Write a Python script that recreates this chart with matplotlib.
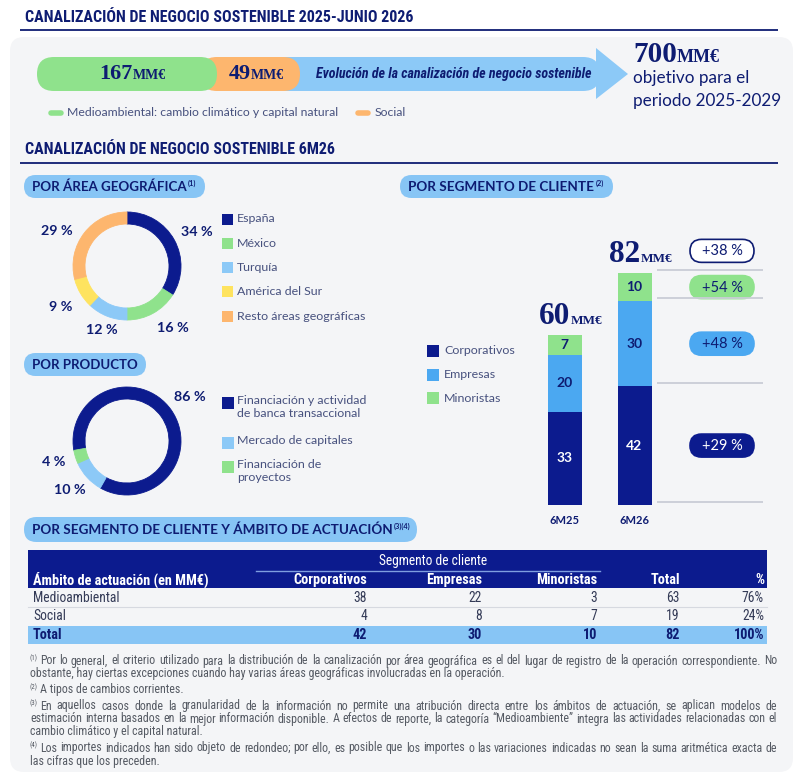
import numpy as np
import matplotlib
matplotlib.use('Agg')
import matplotlib.pyplot as plt
from matplotlib.patches import FancyBboxPatch, Polygon, Rectangle
from matplotlib import font_manager

# ---- datos ----
canal_values = [167, 49]
canal_names = ['Medioambiental: cambio climático y capital natural', 'Social']
target_value = 700
target_text = ['objetivo para el', 'periodo 2025-2029']

geo_names = ['España', 'México', 'Turquía', 'América del Sur', 'Resto áreas geográficas']
geo_pct = [34, 16, 12, 9, 29]

prod_names = ['Financiación y actividad\nde banca transaccional', 'Mercado de capitales',
              'Financiación de\nproyectos']
prod_pct = [86, 10, 4]

periods = ['6M25', '6M26']
seg_names = ['Corporativos', 'Empresas', 'Minoristas']
seg_6m25 = [33, 20, 7]
seg_6m26 = [42, 30, 10]
seg_growth = ['+29 %', '+48 %', '+54 %']
total_growth = '+38 %'

scope_names = ['Medioambiental', 'Social']
scope_corp = [38, 4]
scope_emp = [22, 8]
scope_min = [3, 7]
scope_share = ['76%', '24%']

notes = [
    ('(1)', 'Por lo general, el criterio utilizado para la distribución de la canalización por área geográfica es el del lugar de registro de la operación correspondiente. No', True),
    (None, 'obstante, hay ciertas excepciones cuando hay varias áreas geográficas involucradas en la operación.', False),
    ('(2)', 'A tipos de cambios corrientes.', False),
    ('(3)', 'En aquellos casos donde la granularidad de la información no permite una atribución directa entre los ámbitos de actuación, se aplican modelos de', True),
    (None, 'estimación interna basados en la mejor información disponible. A efectos de reporte, la categoría “Medioambiente” integra las actividades relacionadas con el', True),
    (None, 'cambio climático y el capital natural.', False),
    ('(4)', 'Los importes indicados han sido objeto de redondeo; por ello, es posible que los importes o las variaciones indicadas no sean la suma aritmética exacta de', True),
    (None, 'las cifras que los preceden.', False),
]
note_y = [661, 674, 690, 706, 719, 732, 748, 761]

# ---- fuentes ----
fl = font_manager.fontManager.ttflist


def has_bold(n):
    return any(f.name == n and str(f.weight) in ('600', '700', 'bold', 'semibold') for f in fl)


prefs = ['Roboto Condensed', 'Barlow Semi Condensed', 'Archivo Narrow', 'Asap Condensed',
         'Encode Sans Condensed', 'Cabin Condensed', 'Barlow Condensed', 'Liberation Sans Narrow']
narrow_ok = [n for n in prefs if has_bold(n)] or [n for n in prefs if any(f.name == n for f in fl)]
NARROW = [narrow_ok[0] if narrow_ok else 'Roboto', 'DejaVu Sans']
SANS = ['Lato', 'DejaVu Sans']
SERIF = ['Liberation Serif', 'DejaVu Serif']

NAVY = '#0c1b8e'
TXT = '#0e1c72'
LEG = '#47517e'
GREEN = '#8fe28c'
ORANGE = '#fdb66e'
SKY = '#8cc9f7'
BLUE = '#4ba8f1'
YELLOW = '#fee35f'
PANEL = '#f4f5f7'
PILL = '#87c5f5'
GRID = '#c9cdd6'
NOTE = '#555a63'
ROW = '#333a56'
LEG_FS = 8.9

W, H = 804, 780
fig = plt.figure(figsize=(W / 100, H / 100), dpi=100)
ax = fig.add_axes([0, 0, 1, 1])
ax.set_xlim(0, W)
ax.set_ylim(H, 0)
ax.axis('off')
renderer = fig.canvas.get_renderer()


def text_w(s, **kw):
    t = ax.text(0, 0, s, **kw)
    w = t.get_window_extent(renderer).width
    t.remove()
    return w


def fit_size(s, width, size=9, **kw):
    # font size that gives the width
    return size * width / text_w(s, fontsize=size, **kw)


def rect_axes(x, y, w, h):
    return fig.add_axes([x / W, 1 - (y + h) / H, w / W, h / H])


def to_main(axx, x, y):
    return ax.transData.inverted().transform(axx.transData.transform((x, y)))


def amount(x, y, value, big, small, ha='center'):
    kb = dict(fontfamily=SERIF, fontweight='bold', color=TXT, va='baseline')
    w1 = text_w(value, fontsize=big, **kb)
    w2 = text_w('MM€', fontsize=small, **kb)
    x0 = x - (w1 + w2) / 2 if ha == 'center' else x
    ax.text(x0, y, value, fontsize=big, **kb)
    ax.text(x0 + w1, y, 'MM€', fontsize=small, **kb)


def header(y, text, width):
    kw = dict(fontweight='bold', fontfamily=NARROW)
    ax.text(25, y, text, fontsize=fit_size(text, width, **kw), color=TXT, va='center', **kw)
    ax.plot([20, 778], [y + 13, y + 13], color=TXT, lw=1.3, solid_capstyle='butt')


def pill(xc, yc, w, h, text, fc, ec, tc, size=10.5, lw=1.2):
    ax.add_patch(FancyBboxPatch((xc - w / 2, yc - h / 2), w, h,
                                boxstyle=f'round,pad=0,rounding_size={h / 2}', fc=fc, ec=ec, lw=lw))
    ax.text(xc, yc + 0.5, text, ha='center', va='center', fontsize=size, fontfamily=SANS, color=tc)


def pill_heading(x, y, w, h, text, width, sup=None):
    ax.add_patch(FancyBboxPatch((x, y), w, h, boxstyle=f'round,pad=0,rounding_size={h / 2}',
                                fc=PILL, ec='none'))
    kw = dict(fontweight='bold', fontfamily=SANS)
    fs = min(fit_size(text, width, **kw), 10)
    ax.text(x + 8, y + h / 2 + 0.5, text, va='center', fontsize=fs, color=TXT, **kw)
    if sup:
        tw = text_w(text, fontsize=fs, **kw)
        ax.text(x + 9.5 + tw, y + h / 2 - 3, sup, va='center', fontsize=5.3, fontweight='bold',
                fontfamily=SANS, color=TXT)


# panel de fondo
ax.add_patch(FancyBboxPatch((10, 37), 783, 735, boxstyle='round,pad=0,rounding_size=14',
                            fc=PANEL, ec='none'))

header(17, 'CANALIZACIÓN DE NEGOCIO SOSTENIBLE 2025-JUNIO 2026', 390)

# flecha de evolución
ax.add_patch(FancyBboxPatch((270, 57), 330, 34, boxstyle='round,pad=0,rounding_size=17', fc=SKY, ec='none'))
ax.add_patch(Polygon([(596, 48), (628, 74), (596, 99)], closed=True, fc=SKY, ec='none'))
ax.add_patch(FancyBboxPatch((200, 57), 100, 34, boxstyle='round,pad=0,rounding_size=17', fc=ORANGE, ec='none'))
ax.add_patch(FancyBboxPatch((37, 57), 180, 34, boxstyle='round,pad=0,rounding_size=17', fc=GREEN, ec='none'))
amount(132.5, 79, str(canal_values[0]), 16, 10)
amount(256, 79, str(canal_values[1]), 16, 10)
evo = 'Evolución de la canalización de negocio sostenible'
ek = dict(fontweight='bold', style='italic', fontfamily=NARROW)
ax.text(454, 74, evo, fontsize=fit_size(evo, 277, **ek), color=TXT, ha='center', va='center', **ek)

amount(633, 61.5, str(target_value), 21, 13, ha='left')
ax.text(633, 82.5, target_text[0], fontsize=12.3, fontfamily=SANS, color=TXT, va='baseline')
ax.text(633, 106, target_text[1], fontsize=12.3, fontfamily=SANS, color=TXT, va='baseline')

for (x0, x1, xt), name, col in zip([(51, 61, 67), (358, 368, 375)], canal_names, [GREEN, ORANGE]):
    ax.plot([x0, x1], [113, 113], color=col, lw=4, solid_capstyle='round')
    ax.text(xt, 113, name, fontsize=8.8, fontfamily=SANS, color=LEG, va='center')

header(150, 'CANALIZACIÓN DE NEGOCIO SOSTENIBLE 6M26', 312)


# ---- donuts ----
def donut(cx, cy, r, vals, colors, start, shifts, dists):
    a = rect_axes(cx - r, cy - r, 2 * r, 2 * r)
    wedges, _ = a.pie(vals, colors=colors, startangle=start, counterclock=False, radius=1,
                      wedgeprops=dict(width=12 / r, linewidth=0.6))
    for w in wedges:
        w.set_edgecolor(w.get_facecolor())
    a.set_xlim(-1, 1)
    a.set_ylim(-1, 1)
    for w, v, s, d in zip(wedges, vals, shifts, dists):
        ang = np.deg2rad((w.theta1 + w.theta2) / 2 + s)
        a.text(d * np.cos(ang), d * np.sin(ang), f'{v} %', ha='center', va='center', fontsize=10.3,
               fontweight='bold', fontfamily=SANS, color=TXT, clip_on=False)


pill_heading(24, 175, 181, 23, 'POR ÁREA GEOGRÁFICA', 155, '(1)')
donut(127, 266, 54, geo_pct, [NAVY, GREEN, SKY, YELLOW, ORANGE], 90,
      [-3, 8, 0, 1, 11], [1.44, 1.43, 1.27, 1.45, 1.45])
for i, name in enumerate(geo_names):
    y = 219 + i * 24.3
    ax.add_patch(Rectangle((222, y - 5.5), 11, 11, fc=[NAVY, GREEN, SKY, YELLOW, ORANGE][i], ec='none'))
    ax.text(237, y, name, fontsize=LEG_FS, fontfamily=SANS, color=LEG, va='center')

pill_heading(24, 353, 122, 23, 'POR PRODUCTO', 105)
donut(127, 441, 54, prod_pct, [NAVY, SKY, GREEN], 190, [0, -2, -1], [1.42, 1.40, 1.42])
for name, y, col in zip(prod_names, [403, 443, 467], [NAVY, SKY, GREEN]):
    ax.add_patch(Rectangle((222, y - 6), 12, 12, fc=col, ec='none'))
    ax.text(237, y - 8.5, name, fontsize=LEG_FS, fontfamily=SANS, color=LEG, va='top', linespacing=1.3)

# ---- barras por segmento ----
pill_heading(400, 175, 213, 23, 'POR SEGMENTO DE CLIENTE', 185, '(2)')
seg_colors = [NAVY, BLUE, GREEN]
for i, name in enumerate(seg_names):
    y = 351 + i * 23.6
    ax.add_patch(Rectangle((427, y - 6), 12, 12, fc=seg_colors[i], ec='none'))
    ax.text(444, y, name, fontsize=LEG_FS, fontfamily=SANS, color=LEG, va='center')

px_unit = 2.83
bx = rect_axes(529.5, 505 - 95 * px_unit, 240.5, 95 * px_unit)
bx.set_xlim(-0.5, -0.5 + 240.5 / 70)
bx.set_ylim(0, 95)
bx.patch.set_visible(False)
for s in bx.spines.values():
    s.set_visible(False)
series = np.array([seg_6m25, seg_6m26]).T
bottom = np.zeros(2)
for j in range(3):
    bx.bar([0, 1], series[j], bottom=bottom, width=34 / 70, color=seg_colors[j], linewidth=0)
    for i in range(2):
        bx.text(i, bottom[i] + series[j][i] / 2, str(series[j][i]), ha='center', va='center',
                fontsize=10, fontweight='bold', fontfamily=SANS, color='white' if j == 0 else TXT)
    bottom = bottom + series[j]
totals = series.sum(axis=0)
bx.hlines(np.concatenate([[0], np.cumsum(seg_6m26)]) + 1, 1.32, 2.84, color=GRID, lw=1.3)
bx.set_xticks([0, 1], periods)
bx.set_yticks([])
bx.tick_params(axis='x', length=0, pad=7)
for lab in bx.get_xticklabels():
    lab.set(fontsize=8, fontweight='bold', fontfamily=SANS, color=TXT)

mids = np.cumsum(seg_6m26) - np.array(seg_6m26) / 2
pill_style = [(NAVY, NAVY, 'white'), (BLUE, BLUE, TXT), (GREEN, GREEN, TXT)]
for m, g, (fc, ec, tc) in zip(mids, seg_growth, pill_style):
    xm, ym = to_main(bx, 2.25, m)
    pill(xm, ym, 64, 23, g, fc, ec, tc)
xm, ym = to_main(bx, 2.25, totals[1] + 7.8)
pill(xm, ym, 64, 23, total_growth, 'white', TXT, TXT)

for i, tot in enumerate(totals):
    xm, ym = to_main(bx, i, tot)
    amount(xm + 6, ym - 11, str(tot), 22.5, 9.5)

# ---- tabla ----
pill_heading(24, 517, 393, 25, 'POR SEGMENTO DE CLIENTE Y ÁMBITO DE ACTUACIÓN', 358, '(3)(4)')
ax.add_patch(Rectangle((28, 550), 739, 38, fc=NAVY, ec='none'))
seg_t = 'Segmento de cliente'
nk = dict(fontfamily=NARROW)
ax.text(433, 561.5, seg_t, fontsize=fit_size(seg_t, 109, **nk), color='white', ha='center',
        va='center', **nk)
ax.plot([256, 600], [570.5, 570.5], color='#7f9ee0', lw=1)
col_right = [367, 482, 597, 680, 764]
bk = dict(fontweight='bold', fontfamily=NARROW)
amb = 'Ámbito de actuación (en MM€)'
fs_head = fit_size(amb, 176, **bk)
th = dict(fontsize=fs_head, color='white', va='center', **bk)
ax.text(33, 580, amb, **th)
for x, name in zip(col_right, seg_names + ['Total', '%']):
    ax.text(x, 580, name, ha='right', **th)

rows = []
for k in range(2):
    vals = [scope_corp[k], scope_emp[k], scope_min[k]]
    rows.append(vals + [sum(vals)])
fs_row = fit_size(scope_names[0], 87, **nk)
td = dict(fontsize=fs_row, color=ROW, va='center', **nk)
for k, (name, vals) in enumerate(zip(scope_names, rows)):
    y = 598 + k * 18.5
    ax.text(33, y, name, **td)
    for x, v in zip(col_right, vals + [scope_share[k]]):
        ax.text(x, y, str(v), ha='right', **td)
ax.plot([28, 767], [607.3, 607.3], color='#d6d9e0', lw=0.8)
ax.add_patch(Rectangle((28, 626), 739, 18, fc=PILL, ec='none'))
tot_row = [sum(scope_corp), sum(scope_emp), sum(scope_min),
           sum(sum(r) for r in [scope_corp, scope_emp, scope_min])]
tt = dict(fontsize=fs_head, color=TXT, va='center', **bk)
ax.text(33, 635, 'Total', **tt)
for x, v in zip(col_right, tot_row + ['100%']):
    ax.text(x, 635, str(v), ha='right', **tt)

# ---- notas ----
X0, X1 = 30, 777
sup_w = text_w('(1)', fontsize=5, **nk) + 2
fs_note = 0.985 * fit_size(notes[0][1], X1 - X0 - sup_w, **nk)
ck = dict(color=NOTE, va='center', **nk)
for (sup, line, just), y in zip(notes, note_y):
    x = X0
    if sup:
        ax.text(x, y - 3, sup, fontsize=5, **ck)
        x += sup_w
    if not just:
        ax.text(x, y, line, fontsize=fs_note, **ck)
        continue
    words = line.split()
    widths = [text_w(wd, fontsize=fs_note, **nk) for wd in words]
    gap = (X1 - x - sum(widths)) / (len(words) - 1)
    for wd, wv in zip(words, widths):
        ax.text(x, y, wd, fontsize=fs_note, **ck)
        x += wv + gap

fig.savefig('out.png', dpi=100)
